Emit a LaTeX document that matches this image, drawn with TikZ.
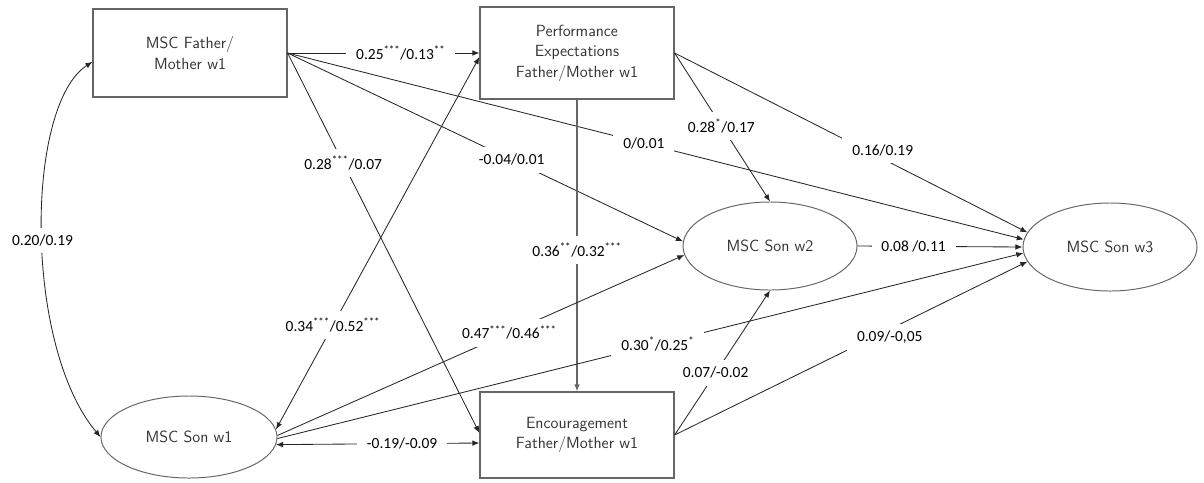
\documentclass[tikz,border=0pt]{standalone}
\usepackage{fontspec}
\usetikzlibrary{shapes.geometric, arrows.meta}
\newfontfamily\coeffamily{Carlito}
\newcommand\nodefont{\sffamily\fontsize{11.5}{14.5}\selectfont}
\newcommand\coeffont{\coeffamily\fontsize{11}{12}\selectfont}
\newcommand\sig[1]{\textsuperscript{#1}}

\tikzstyle{box} = [draw=black!60, line width=0.8pt, minimum width=4.85cm, minimum height=2.2cm, align=center, text=black!80, font=\nodefont]
\tikzstyle{son} = [ellipse, draw=black!60, line width=0.7pt, minimum width=4.35cm, minimum height=2.2cm, text=black!80, font=\nodefont]
\tikzstyle{coef} = [fill=white, inner xsep=7pt, inner ysep=5pt, font=\coeffont]
\tikzstyle{arr} = [-{Latex[length=5pt,width=4pt]}, line width=0.6pt, draw=black!85]
\tikzstyle{cov} = [{Latex[length=5pt,width=4pt]}-{Latex[length=5pt,width=4pt]}, line width=0.6pt, draw=black!85]

\begin{document}
\begin{tikzpicture}[x=0.025cm, y=-0.025cm]
\useasboundingbox (0,0) rectangle (1204,482);
\node[box] (fa) at (190,53) {MSC Father/\\Mother w1};
\node[box, minimum height=2.3cm] (pe) at (577,53) {Performance\\Expectations\\Father/Mother w1};
\node[box, minimum height=2.15cm] (enc) at (577,435) {Encouragement\\Father/Mother w1};
\node[son, minimum width=4.4cm, minimum height=2.05cm] (s1) at (189,437) {MSC Son w1};
\node[son] (s2) at (770,246) {MSC Son w2};
\node[son] (s3) at (1110,247) {MSC Son w3};

\draw[cov] ([yshift=-0.22cm]fa.west) to[out=213, in=130, out distance=2cm, in distance=3cm] node[coef, pos=0.52] (c1) {0.20/0.19} (s1.west);
\draw[arr] (fa.east) -- node[coef, pos=0.59] (c2) {0.25\sig{***}/0.13\sig{**}} (pe.west);
\draw[arr] (fa.east) -- node[coef, pos=0.29] (c3) {0.28\sig{***}/0.07} ([yshift=0.05cm]enc.west);
\draw[arr] (fa.east) -- node[coef, pos=0.567] (c4) {-0.04/0.01} (s2.177);
\draw[arr] (fa.east) -- node[coef, pos=0.484] (c5) {0/0.01} (s3.175);
\draw[cov] ([yshift=-0.1cm]pe.west) -- node[coef, pos=0.72] (c6) {0.34\sig{***}/0.52\sig{***}} (s1.5);
\draw[arr] (pe.east) -- node[coef, pos=0.49] (c7) {0.28\sig{*}/0.17} (s2.north);
\draw[arr] (pe.east) -- node[coef, pos=0.59, yshift=0.22cm] (c8) {0.16/0.19} (s3.170);
\draw[arr, line width=1.1pt, draw=black!60] (pe.south) -- node[coef, pos=0.515] (c9) {0.36\sig{**}/0.32\sig{***}} (enc.north);
\draw[arr] (s1.1) -- node[coef, pos=0.57] (c10) {0.47\sig{***}/0.46\sig{***}} (s2.186);
\draw[arr] (s1.-1) -- node[coef, pos=0.51] (c11) {0.30\sig{*}/0.25\sig{*}} (s3.184);
\draw[cov] ([yshift=-0.2cm]enc.west) -- node[coef, pos=0.38] (c12) {-0.19/-0.09} (s1.-5);
\draw[arr] (enc.east) -- node[coef, pos=0.43] (c13) {0.07/-0.02} (s2.south);
\draw[arr] (enc.east) -- node[coef, pos=0.61, yshift=-0.2cm] (c14) {0.09/-0,05} (s3.190);
\draw[arr] (s2.east) -- node[coef, pos=0.34] (c15) {0.08 /0.11} (s3.west);
\end{tikzpicture}
\end{document}
